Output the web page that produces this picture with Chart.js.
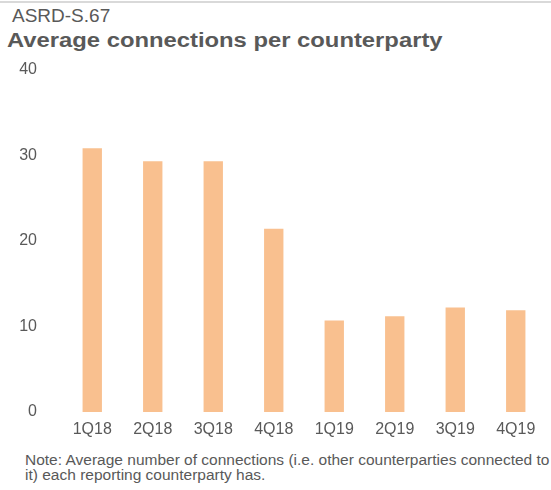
<!DOCTYPE html>
<html>
<head>
<meta charset="utf-8">
<script src="https://cdn.jsdelivr.net/npm/chart.js@4"></script>
<style>
    html, body { margin: 0; padding: 0; background: #fff; }
    body { width: 551px; height: 490px; position: relative; overflow: hidden; font-family: "Liberation Sans", Arial, sans-serif; color: #595959; }
    .topline { position: absolute; left: 0; top: 1px; width: 551px; height: 2px; background: #d9d9d9; }
    .code { position: absolute; left: 12px; top: 5px; font-size: 19px; line-height: 22px; }
    .title { position: absolute; left: 7px; top: 28px; font-size: 20px; line-height: 24px; font-weight: bold; white-space: nowrap; transform: scaleX(1.19); transform-origin: 0 0; }
    .note { position: absolute; left: 25px; top: 453px; font-size: 15.5px; line-height: 14.5px; white-space: nowrap; }
    .wrap { position: absolute; left: 0; top: 43px; width: 551px; height: 402px; }
</style>
</head>
<body>
<div class="topline"></div>
<div class="code">ASRD-S.67</div>
<div class="title">Average connections per counterparty</div>
<div class="wrap"><canvas id="chart"></canvas></div>
<div class="note">Note: Average number of connections (i.e. other counterparties connected to<br>it) each reporting counterparty has.</div>

<script>
// données
const quarters = ['1Q18', '2Q18', '3Q18', '4Q18', '1Q19', '2Q19', '3Q19', '4Q19'];
const avgConnections = [30.8, 29.3, 29.3, 21.4, 10.7, 11.2, 12.2, 11.9];
const yTicks = [0, 10, 20, 30, 40];

const textColor = '#595959';
const barColor = '#F9C08F';

const ctx = document.getElementById('chart').getContext('2d');
new Chart(ctx, {
    type: 'bar',
    data: {
        labels: quarters,
        datasets: [{
            data: avgConnections,
            backgroundColor: barColor,
            borderWidth: 0,
            barPercentage: 0.32,
            categoryPercentage: 1
        }]
    },
    options: {
        responsive: true,
        maintainAspectRatio: false,
        animation: false,
        layout: { padding: { top: 0, right: 5, left: 0, bottom: 0 } },
        plugins: {
            legend: { display: false },
            tooltip: { enabled: false }
        },
        scales: {
            x: {
                grid: { display: false },
                border: { display: false },
                ticks: {
                    color: textColor,
                    font: { family: 'Liberation Sans', size: 16 },
                    padding: 0,
                    maxRotation: 0
                },
                afterFit: scale => { scale.height = 33; }
            },
            y: {
                min: 0,
                max: 40,
                grid: { display: false },
                border: { display: false },
                afterBuildTicks: scale => { scale.ticks = yTicks.map(v => ({ value: v })); },
                ticks: {
                    color: textColor,
                    font: { family: 'Liberation Sans', size: 16 },
                    padding: 17
                },
                afterFit: scale => { scale.width = 62; }
            }
        }
    }
});
</script>
</body>
</html>
